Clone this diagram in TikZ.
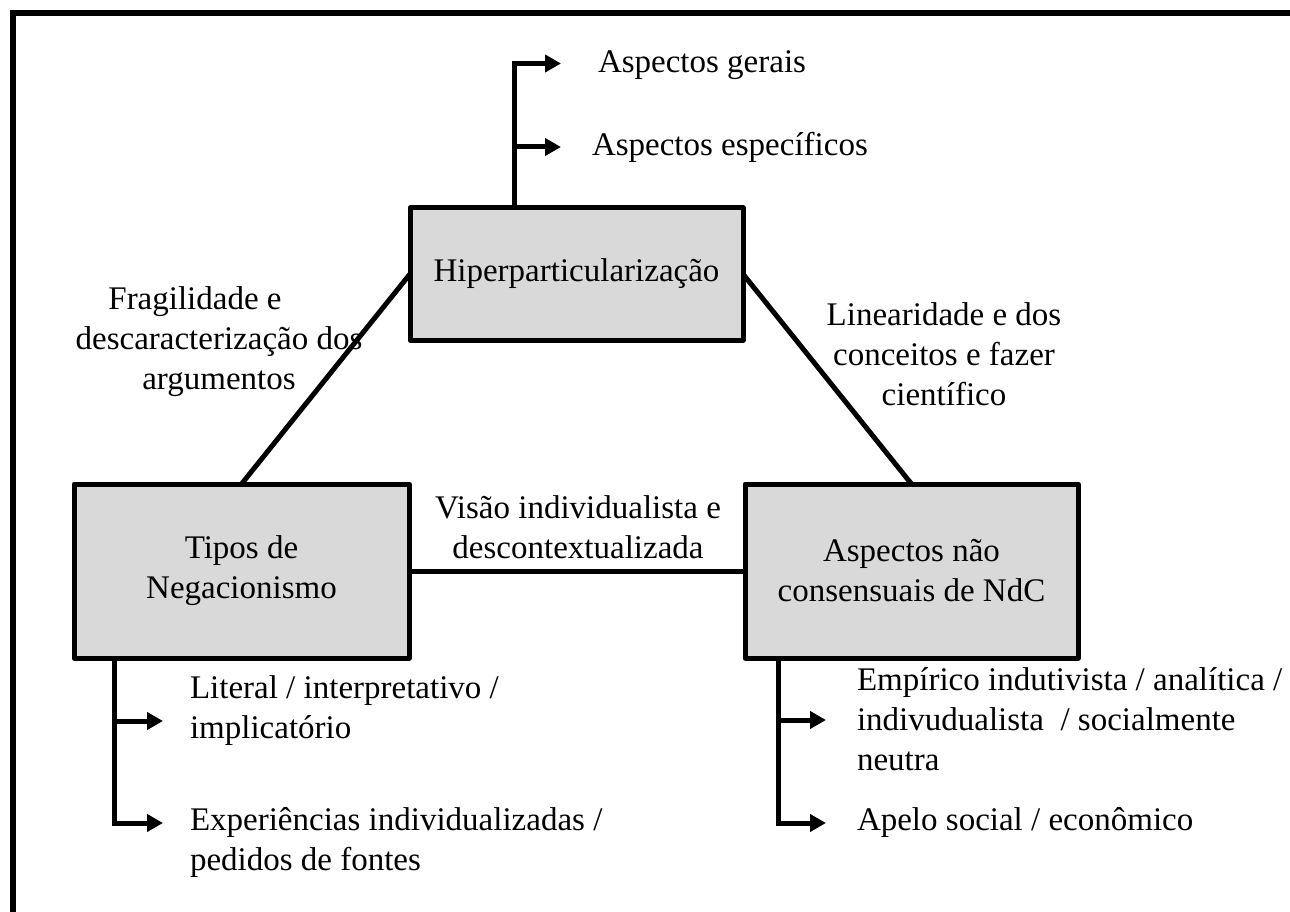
\documentclass[tikz,border=0pt]{standalone}
\usepackage{fontspec}
\setmainfont{Liberation Serif}
\usetikzlibrary{arrows.meta,backgrounds}
\definecolor{boxgray}{HTML}{D9D9D9}
\begin{document}
\begin{tikzpicture}[x=1pt,y=-1pt,
  every node/.style={font=\fontsize{33}{40}\selectfont, inner sep=0pt, outer sep=0pt},
  box/.style={draw, line width=5pt, fill=boxgray, rectangle, line join=round},
  ln/.style={line width=5pt},
  arr/.style={line width=5pt, line join=miter, -{Triangle[length=16pt,width=17pt]}},
  lbl/.style={align=center},
  item/.style={align=left, anchor=west}]
\useasboundingbox (0,0) rectangle (1290,912);
\clip (0,0) rectangle (1290,912);
\draw[line width=5.5pt] (13,13) rectangle (1330,960);

\node[box, minimum width=333pt, minimum height=132pt] (hip) at (576.5,274) {Hiperparticularização};
\node[box, minimum width=335pt, minimum height=174pt, align=center] (tip) at (241.5,571) {Tipos de\\Negacionismo};
\node[box, minimum width=333pt, minimum height=174pt, align=center] (asp) at (911.5,571) {Aspectos não\\consensuais de NdC};

\node[lbl] (fr) at (219,342) {Fragilidade e\hspace*{48pt}\\descaracterização dos\\argumentos};
\node[lbl] (li) at (944,354) {Linearidade e dos\\conceitos e fazer\\científico};
\node[lbl] (vi) at (578,527) {Visão individualista e\\descontextualizada};

\node[item] (ag) at (598,65) {Aspectos gerais};
\node[item] (ae) at (592,147) {Aspectos específicos};
\node[item] (lit) at (190,711) {Literal / interpretativo /\\implicatório};
\node[item] (exp) at (190,843) {Experiências individualizadas /\\pedidos de fontes};
\node[item] (emp) at (857,719) {Empírico indutivista / analítica /\\indivudualista\ \ / socialmente\\neutra};
\node[item] (ap) at (857,823) {Apelo social / econômico};

\coordinate (hs) at (514,208);
\coordinate (t1) at (561,63.5);
\coordinate (t2) at (561,147);
\coordinate (ls) at (114.5,658);
\coordinate (t3) at (163,721);
\coordinate (t4) at (163,823);
\coordinate (rs) at (778,658);
\coordinate (t5) at (826,720);
\coordinate (t6) at (826,823);

\begin{pgfonlayer}{background}
\draw[ln] (tip.north) -- (hip.west);
\draw[ln] (hip.east) -- (asp.north);
\draw[ln] (tip.east) -- (asp.west);
\draw[arr] (hs) |- (t1);
\draw[arr] (hs |- t2) -- (t2);
\draw[arr] (ls) |- (t4);
\draw[arr] (ls |- t3) -- (t3);
\draw[arr] (rs) |- (t6);
\draw[arr] (rs |- t5) -- (t5);
\end{pgfonlayer}
\end{tikzpicture}
\end{document}
